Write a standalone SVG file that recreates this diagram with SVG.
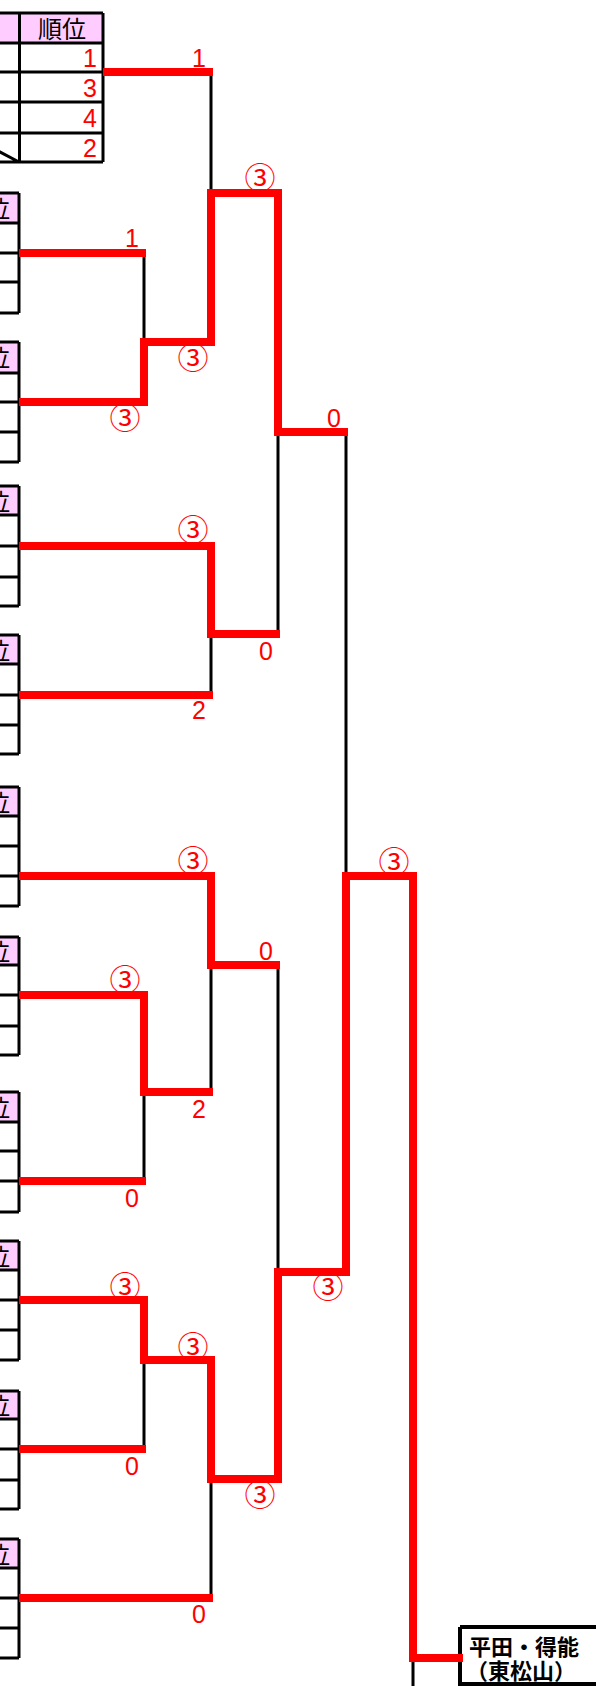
<svg xmlns="http://www.w3.org/2000/svg" width="596" height="1686" viewBox="0 0 596 1686">
<style>
.bg{fill:#FFFFFF}
.hdr{fill:#FFCCFF}
.grid{fill:none;stroke:#000000;stroke-width:3}
.wire{fill:none;stroke:#000000;stroke-width:3}
.win{fill:none;stroke:#FF0000;stroke-width:8;stroke-linejoin:miter;stroke-linecap:butt}
.ht{font-family:"Noto Sans CJK JP","Noto Sans CJK SC",sans-serif;font-size:24px;fill:#000000}
.rk{font-family:"Liberation Sans",Arial,sans-serif;font-size:25px;fill:#FF0000;text-anchor:end}
.sc{font-family:"Liberation Sans",Arial,sans-serif;font-size:25px;fill:#FF0000;text-anchor:middle}
.cs{font-family:"Noto Sans CJK JP","Noto Sans CJK SC",sans-serif;font-size:31px;fill:#FF0000;text-anchor:middle}
.fin{font-family:"Noto Sans CJK JP","Noto Sans CJK SC",sans-serif;font-size:22px;font-weight:bold;fill:#000000}
</style>
<rect class="bg" x="0" y="0" width="596" height="1686"/>

<g id="table1">
<rect class="hdr" x="-70" y="13" width="173" height="30"/>
<path class="grid" d="M-70 13H103M-70 43H103M-70 72H103M-70 102H103M-70 133H103M-70 162H103M19.5 13V162M103 13V162M-36 133L19 162"/>
<text class="ht" x="62" y="38" text-anchor="middle">順位</text>
<text class="rk" x="97" y="67">1</text>
<text class="rk" x="97" y="97">3</text>
<text class="rk" x="97" y="127">4</text>
<text class="rk" x="97" y="157">2</text>
</g>

<g id="table2">
<rect class="hdr" x="-70" y="193" width="89" height="30"/>
<path class="grid" d="M-70 193H19M-70 223H19M-70 253H19M-70 282H19M-70 313H19M19 193V313"/>
<text class="ht" x="10" y="218" text-anchor="end">順位</text>
</g>
<g id="table3">
<rect class="hdr" x="-70" y="342" width="89" height="31"/>
<path class="grid" d="M-70 342H19M-70 373H19M-70 402H19M-70 432H19M-70 462H19M19 342V462"/>
<text class="ht" x="10" y="367" text-anchor="end">順位</text>
</g>
<g id="table4">
<rect class="hdr" x="-70" y="486" width="89" height="29"/>
<path class="grid" d="M-70 486H19M-70 515H19M-70 546H19M-70 577H19M-70 606H19M19 486V606"/>
<text class="ht" x="10" y="511" text-anchor="end">順位</text>
</g>
<g id="table5">
<rect class="hdr" x="-70" y="635" width="89" height="29"/>
<path class="grid" d="M-70 635H19M-70 664H19M-70 695H19M-70 725H19M-70 754H19M19 635V754"/>
<text class="ht" x="10" y="660" text-anchor="end">順位</text>
</g>
<g id="table6">
<rect class="hdr" x="-70" y="787" width="89" height="29"/>
<path class="grid" d="M-70 787H19M-70 816H19M-70 846H19M-70 876H19M-70 906H19M19 787V906"/>
<text class="ht" x="10" y="812" text-anchor="end">順位</text>
</g>
<g id="table7">
<rect class="hdr" x="-70" y="937" width="89" height="28"/>
<path class="grid" d="M-70 937H19M-70 965H19M-70 995H19M-70 1026H19M-70 1055H19M19 937V1055"/>
<text class="ht" x="10" y="961" text-anchor="end">順位</text>
</g>
<g id="table8">
<rect class="hdr" x="-70" y="1092" width="89" height="30"/>
<path class="grid" d="M-70 1092H19M-70 1122H19M-70 1151H19M-70 1181H19M-70 1212H19M19 1092V1212"/>
<text class="ht" x="10" y="1117" text-anchor="end">順位</text>
</g>
<g id="table9">
<rect class="hdr" x="-70" y="1241" width="89" height="29"/>
<path class="grid" d="M-70 1241H19M-70 1270H19M-70 1300H19M-70 1330H19M-70 1360H19M19 1241V1360"/>
<text class="ht" x="10" y="1266" text-anchor="end">順位</text>
</g>
<g id="table10">
<rect class="hdr" x="-70" y="1391" width="89" height="28"/>
<path class="grid" d="M-70 1391H19M-70 1419H19M-70 1449H19M-70 1480H19M-70 1509H19M19 1391V1509"/>
<text class="ht" x="10" y="1415" text-anchor="end">順位</text>
</g>
<g id="table11">
<rect class="hdr" x="-70" y="1539" width="89" height="29"/>
<path class="grid" d="M-70 1539H19M-70 1568H19M-70 1598H19M-70 1628H19M-70 1658H19M19 1539V1658"/>
<text class="ht" x="10" y="1564" text-anchor="end">順位</text>
</g>

<g id="winner">
<path d="M460 1627H600M460 1627V1686M460 1684H600" fill="none" stroke="#000000" stroke-width="4"/>
<text class="fin" x="469" y="1655">平田・得能</text>
<text class="fin" x="466" y="1679">（東松山）</text>
</g>

<g id="connectors">
<path class="wire" d="M144 253V342M144 1092V1181M144 1360V1449M211 72V193M211 634V695M211 965V1092M211 1479V1598M278 432V634M278 965V1272M346 432V876M413 1658V1686"/>
<path class="win" d="M103 72H213"/>
<path class="win" d="M19 253H146"/>
<path class="win" d="M19 402H144V342H211V193H278V432H348"/>
<path class="win" d="M19 546H211V634H280"/>
<path class="win" d="M19 695H213"/>
<path class="win" d="M19 876H211V965H280"/>
<path class="win" d="M19 995H144V1092H213"/>
<path class="win" d="M19 1181H146"/>
<path class="win" d="M19 1300H144V1360H211V1479H278V1272H346V876H413V1658H463"/>
<path class="win" d="M19 1449H146"/>
<path class="win" d="M19 1598H213"/>
</g>

<g id="scores">
<text class="sc" x="199" y="67">1</text>
<text class="cs" x="260" y="189">③</text>
<text class="sc" x="132" y="247">1</text>
<text class="cs" x="193" y="369">③</text>
<text class="cs" x="125" y="429">③</text>
<text class="sc" x="334" y="427">0</text>
<text class="cs" x="193" y="541">③</text>
<text class="sc" x="266" y="660">0</text>
<text class="sc" x="199" y="719">2</text>
<text class="cs" x="193" y="872">③</text>
<text class="cs" x="394" y="873">③</text>
<text class="sc" x="266" y="960">0</text>
<text class="cs" x="125" y="991">③</text>
<text class="sc" x="199" y="1118">2</text>
<text class="sc" x="132" y="1207">0</text>
<text class="cs" x="125" y="1298">③</text>
<text class="cs" x="328" y="1298">③</text>
<text class="cs" x="193" y="1358">③</text>
<text class="sc" x="132" y="1475">0</text>
<text class="cs" x="260" y="1506">③</text>
<text class="sc" x="199" y="1623">0</text>
</g>
</svg>
